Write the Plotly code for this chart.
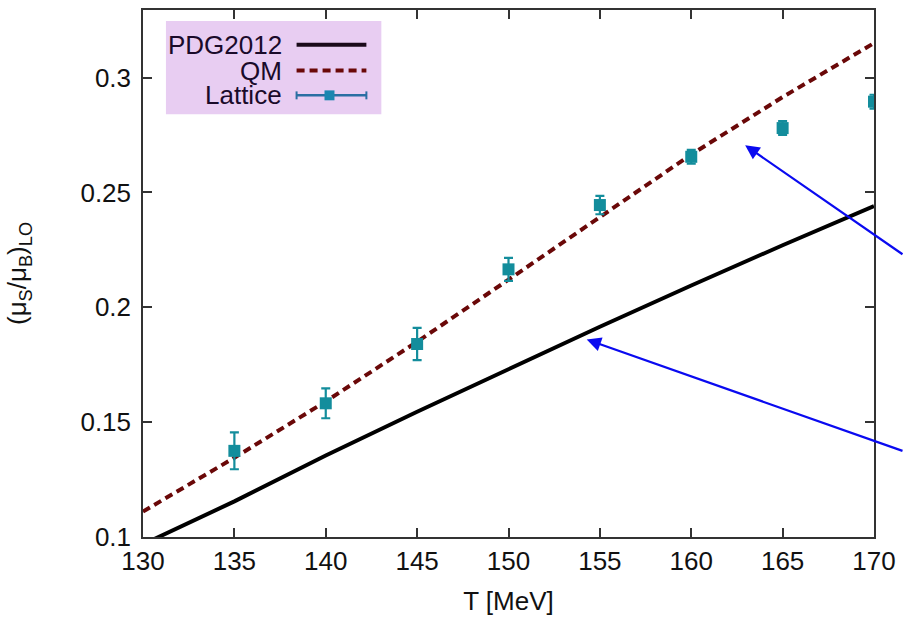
import plotly.graph_objects as go

# ---- data ----
T_line = [130, 135, 140, 145, 150, 155, 160, 165, 170]
pdg2012 = [0.0968, 0.1155, 0.1355, 0.1545, 0.1730, 0.1915, 0.2095, 0.2270, 0.2440]
qm = [0.1111, 0.1345, 0.1590, 0.1850, 0.2120, 0.2395, 0.2665, 0.2915, 0.3150]

T_lat = [135, 140, 145, 150, 155, 160, 165, 170]
lattice = [0.1375, 0.1582, 0.1840, 0.2165, 0.2445, 0.2655, 0.2780, 0.2895]
lattice_err = [0.0080, 0.0065, 0.0070, 0.0050, 0.0040, 0.0030, 0.0030, 0.0030]

x_ticks = [130, 135, 140, 145, 150, 155, 160, 165, 170]
y_ticks = [0.1, 0.15, 0.2, 0.25, 0.3]
y_tick_labels = ["0.1", "0.15", "0.2", "0.25", "0.3"]

legend_names = ["PDG2012", "QM", "Lattice"]

# arrow tips (data coords)
arrow_tips = [(162.95, 0.2705), (154.28, 0.1860)]
arrow_offsets = [(173, 110), (332, 112)]

FONT = "Liberation Sans, Arial, sans-serif"
FS = 26
TEAL = "#138d9c"

fig = go.Figure()
fig.add_trace(go.Scatter(x=T_line, y=pdg2012, mode="lines",
                         line=dict(color="black", width=4), name=legend_names[0]))
fig.add_trace(go.Scatter(x=T_line, y=qm, mode="lines",
                         line=dict(color="#6a0808", width=4, dash="8px,5px"), name=legend_names[1]))
fig.add_trace(go.Scatter(x=T_lat, y=lattice, mode="markers",
                         marker=dict(symbol="square", size=12, color=TEAL),
                         error_y=dict(type="data", array=lattice_err, color=TEAL,
                                      thickness=2.2, width=4.5),
                         name=legend_names[2]))

# plot area geometry in pixels
L, R, TOP, BOT = 143, 876, 8, 539
W, H = R - L, BOT - TOP
def xp(px):
    return (px - L) / W
def yp(py):
    return (BOT - py) / H

shapes = []
# legend box
shapes.append(dict(type="rect", xref="paper", yref="paper",
                   x0=xp(166), x1=xp(382), y0=yp(113), y1=yp(19),
                   fillcolor="#e8cdf2", line=dict(width=0), layer="above"))
rows = [43, 69, 94]
# PDG sample
shapes.append(dict(type="line", xref="paper", yref="paper", x0=xp(297), x1=xp(367),
                   y0=yp(rows[0]), y1=yp(rows[0]), line=dict(color="#1a0a1a", width=4)))
# QM sample
shapes.append(dict(type="line", xref="paper", yref="paper", x0=xp(297), x1=xp(367),
                   y0=yp(rows[1]), y1=yp(rows[1]),
                   line=dict(color="#6a0808", width=4, dash="8px,5px")))
# Lattice sample
LB = "#2a6fa3"
shapes.append(dict(type="line", xref="paper", yref="paper", x0=xp(297), x1=xp(367),
                   y0=yp(rows[2]), y1=yp(rows[2]), line=dict(color=LB, width=2.5)))
for xx in (297, 367):
    shapes.append(dict(type="line", xref="paper", yref="paper", x0=xp(xx), x1=xp(xx),
                       y0=yp(rows[2] - 4), y1=yp(rows[2] + 4), line=dict(color=LB, width=2)))
shapes.append(dict(type="rect", xref="paper", yref="paper", x0=xp(325), x1=xp(335),
                   y0=yp(rows[2] + 5), y1=yp(rows[2] - 5),
                   fillcolor="#1a86b0", line=dict(width=0)))

annotations = []
for name, r in zip(legend_names, rows):
    annotations.append(dict(text=name, xref="paper", yref="paper", x=xp(284), y=yp(r),
                            xanchor="right", yanchor="middle", showarrow=False,
                            font=dict(family=FONT, size=FS, color="#1a0a2a")))
for (tx, ty), (dx, dy) in zip(arrow_tips, arrow_offsets):
    annotations.append(dict(x=tx, y=ty, xref="x", yref="y", ax=dx, ay=dy,
                            axref="pixel", ayref="pixel", text="", showarrow=True,
                            arrowhead=2, arrowsize=1.3, arrowwidth=2.2,
                            arrowcolor="#0a0af0"))

fig.update_layout(
    width=904, height=619,
    margin=dict(l=L, r=904 - R, t=TOP, b=619 - BOT),
    paper_bgcolor="white", plot_bgcolor="white",
    showlegend=False,
    shapes=shapes, annotations=annotations,
    font=dict(family=FONT, size=FS, color="#111"),
)
fig.update_xaxes(range=[130, 170], tickvals=x_ticks, ticks="inside", ticklen=9,
                 tickwidth=1.5, tickcolor="#333", showline=True, linecolor="#333",
                 linewidth=1.5, mirror="ticks", showgrid=False, zeroline=False,
                 title=dict(text="T [MeV]", font=dict(family=FONT, size=FS), standoff=17),
                 tickfont=dict(family=FONT, size=FS))
fig.update_yaxes(range=[0.1, 0.3294], tickvals=y_ticks, ticktext=y_tick_labels,
                 ticks="inside", ticklen=9, tickwidth=1.5, tickcolor="#333",
                 showline=True, linecolor="#333", linewidth=1.5, mirror="ticks",
                 showgrid=False, zeroline=False, ticklabelstandoff=5,
                 title=dict(text="(μ<sub>S</sub>/μ<sub>B</sub>)<sub>LO</sub>",
                            font=dict(family=FONT, size=FS), standoff=46),
                 tickfont=dict(family=FONT, size=FS))

fig.write_html("out.html")
